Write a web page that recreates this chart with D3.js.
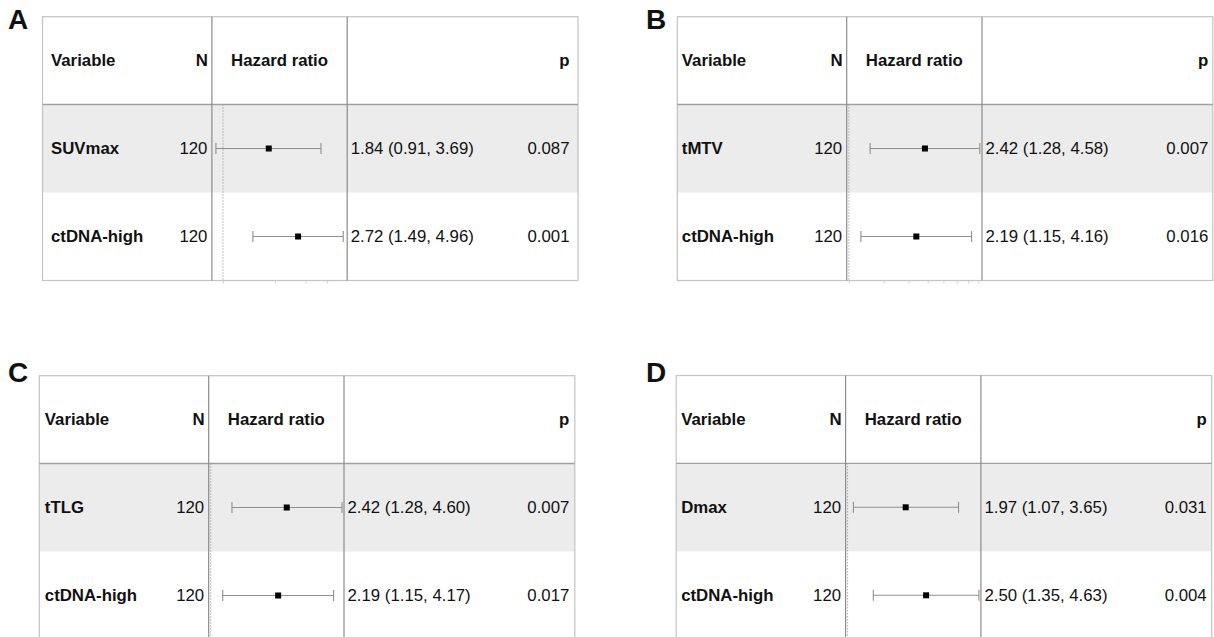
<!DOCTYPE html>
<html>
<head>
<meta charset="utf-8">
<script src="https://cdn.jsdelivr.net/npm/d3@7"></script>
<style>
  html, body { margin: 0; padding: 0; background: #fff; }
  svg { display: block; }
  text { font-family: "Liberation Sans", Arial, Helvetica, sans-serif; fill: #111; }
</style>
</head>
<body>
<script>
// ---- data ----
const panelLetters = ["A", "B", "C", "D"];
const headers = ["Variable", "N", "Hazard ratio", "p"];
const variables = [
  ["SUVmax", "ctDNA-high"],
  ["tMTV", "ctDNA-high"],
  ["tTLG", "ctDNA-high"],
  ["Dmax", "ctDNA-high"]
];
const nValues = [
  [120, 120],
  [120, 120],
  [120, 120],
  [120, 120]
];
const hazardRatio = [
  [1.84, 2.72],
  [2.42, 2.19],
  [2.42, 2.19],
  [1.97, 2.50]
];
const ciLower = [
  [0.91, 1.49],
  [1.28, 1.15],
  [1.28, 1.15],
  [1.07, 1.35]
];
const ciUpper = [
  [3.69, 4.96],
  [4.58, 4.16],
  [4.60, 4.17],
  [3.65, 4.63]
];
const pValues = [
  ["0.087", "0.001"],
  ["0.007", "0.016"],
  ["0.007", "0.017"],
  ["0.031", "0.004"]
];
const axisTicks = [
  [1, 2, 3, 4],
  [1, 1.5, 2, 2.5, 3, 3.5, 4, 4.5],
  [1, 1.5, 2, 2.5, 3, 3.5, 4, 4.5],
  [1, 1.5, 2, 2.5, 3, 3.5, 4, 4.5]
];

// ---- layout ----
const W = 1214, H = 637;
const layout = [
  { x: 42.5, y: 16.7, labelX: 8, labelY: 29, textPad: 8.5, plotPad: 4 },
  { x: 677.3, y: 16.7, labelX: 646, labelY: 28.5, textPad: 4.5, plotPad: 2.2 },
  { x: 39.3, y: 375.7, labelX: 8, labelY: 382, textPad: 5.5, plotPad: 2 },
  { x: 676.2, y: 375.5, labelX: 646, labelY: 382, textPad: 5, plotPad: 2 }
];
const boxW = 535.5;
const headerH = 87.8;
const rowH = 88;
const col1 = 169.4;   // boundary between N and hazard-ratio plot
const col2 = 304.7;   // boundary between plot and estimate text
const fontSize = 16.8;

const svg = d3.select("body").append("svg")
  .attr("width", W).attr("height", H)
  .attr("viewBox", `0 0 ${W} ${H}`);

svg.append("rect").attr("width", W).attr("height", H).attr("fill", "#fff");

const fmt = d3.format(".2f");

panelLetters.forEach((letter, pi) => {
  const L = layout[pi];
  const nRows = variables[pi].length;
  const boxH = headerH + rowH * nRows;
  const g = svg.append("g").attr("transform", `translate(${L.x},${L.y})`);

  // panel letter
  svg.append("text")
    .attr("x", L.labelX).attr("y", L.labelY)
    .attr("font-size", 28).attr("font-weight", 700)
    .attr("fill", "#000")
    .text(letter);

  // row y positions via band scale
  const y = d3.scaleBand()
    .domain(d3.range(nRows))
    .range([headerH, headerH + rowH * nRows])
    .paddingInner(0).paddingOuter(0);

  // shaded first row of each pair
  g.selectAll("rect.band")
    .data(d3.range(nRows).filter(i => i % 2 === 0))
    .join("rect")
    .attr("class", "band")
    .attr("x", 0).attr("y", i => y(i))
    .attr("width", boxW).attr("height", y.bandwidth())
    .attr("fill", "#ececec");

  // log scale for hazard ratio column
  const lo = Math.min(1, d3.min(ciLower[pi]));
  const hi = d3.max(ciUpper[pi]);
  const x = d3.scaleLog()
    .domain([lo, hi])
    .range([col1 + L.plotPad, col2 - L.plotPad]);

  // reference line at HR = 1
  g.append("line")
    .attr("x1", x(1)).attr("x2", x(1))
    .attr("y1", headerH).attr("y2", boxH + 1)
    .attr("stroke", "#8a8a8a").attr("stroke-width", 1)
    .attr("stroke-dasharray", "1,2");

  // faint axis ticks under the plot column
  const axis = d3.axisBottom(x)
    .tickValues(axisTicks[pi])
    .tickSize(3)
    .tickFormat("");
  const axG = g.append("g")
    .attr("transform", `translate(0,${boxH})`)
    .call(axis);
  axG.select(".domain").remove();
  axG.selectAll(".tick line").attr("stroke", "#d4d4d4");

  // outer box
  g.append("rect")
    .attr("x", 0).attr("y", 0)
    .attr("width", boxW).attr("height", boxH)
    .attr("fill", "none")
    .attr("stroke", "#c4c4c4").attr("stroke-width", 1.2);

  // header separator
  g.append("line")
    .attr("x1", 0).attr("x2", boxW)
    .attr("y1", headerH).attr("y2", headerH)
    .attr("stroke", "#a0a0a0").attr("stroke-width", 1.3);

  // column dividers
  [col1, col2].forEach(cx => {
    g.append("line")
      .attr("x1", cx).attr("x2", cx)
      .attr("y1", 0).attr("y2", boxH)
      .attr("stroke", "#8c8c8c").attr("stroke-width", 1.2);
  });

  // headers
  const hy = headerH / 2;
  g.append("text").attr("x", L.textPad).attr("y", hy).attr("dy", "0.35em")
    .attr("font-size", fontSize).attr("font-weight", 700).text(headers[0]);
  g.append("text").attr("x", col1 - 4).attr("y", hy).attr("dy", "0.35em")
    .attr("text-anchor", "end")
    .attr("font-size", fontSize).attr("font-weight", 700).text(headers[1]);
  g.append("text").attr("x", (col1 + col2) / 2).attr("y", hy).attr("dy", "0.35em")
    .attr("text-anchor", "middle")
    .attr("font-size", fontSize).attr("font-weight", 700).text(headers[2]);
  g.append("text").attr("x", boxW - L.textPad).attr("y", hy).attr("dy", "0.35em")
    .attr("text-anchor", "end")
    .attr("font-size", fontSize).attr("font-weight", 700).text(headers[3]);

  // rows
  const rows = d3.range(nRows).map(i => ({
    name: variables[pi][i],
    n: nValues[pi][i],
    hr: hazardRatio[pi][i],
    lo: ciLower[pi][i],
    hi: ciUpper[pi][i],
    p: pValues[pi][i]
  }));

  const rg = g.selectAll("g.row").data(rows).join("g")
    .attr("class", "row")
    .attr("transform", (d, i) => `translate(0,${y(i) + y.bandwidth() / 2})`);

  rg.append("text").attr("x", L.textPad).attr("dy", "0.35em")
    .attr("font-size", fontSize).attr("font-weight", 700)
    .text(d => d.name);
  rg.append("text").attr("x", col1 - 4.5).attr("dy", "0.35em")
    .attr("text-anchor", "end").attr("font-size", fontSize)
    .text(d => d.n);

  // confidence interval whiskers
  rg.append("line")
    .attr("x1", d => x(d.lo)).attr("x2", d => x(d.hi))
    .attr("stroke", "#8f8f8f").attr("stroke-width", 1.1);
  rg.selectAll("line.cap").data(d => [d.lo, d.hi]).join("line")
    .attr("class", "cap")
    .attr("x1", v => x(v)).attr("x2", v => x(v))
    .attr("y1", -5.5).attr("y2", 5.5)
    .attr("stroke", "#8f8f8f").attr("stroke-width", 1.1);

  // point estimate
  rg.append("rect")
    .attr("x", d => x(d.hr) - 3).attr("y", -3)
    .attr("width", 6).attr("height", 6)
    .attr("fill", "#000");

  rg.append("text").attr("x", col2 + 3.5).attr("dy", "0.35em")
    .attr("font-size", fontSize)
    .text(d => `${fmt(d.hr)} (${fmt(d.lo)}, ${fmt(d.hi)})`);
  rg.append("text").attr("x", boxW - L.textPad).attr("dy", "0.35em")
    .attr("text-anchor", "end").attr("font-size", fontSize)
    .text(d => d.p);
});
</script>
</body>
</html>
